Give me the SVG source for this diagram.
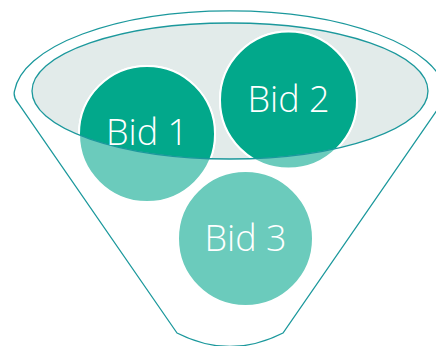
<svg xmlns="http://www.w3.org/2000/svg" width="436" height="346" viewBox="0 0 436 346">
<style>
.outline{fill:none;stroke:#1B989C;stroke-width:1.3}
.light{fill:#6BCBBC;stroke:#ffffff;stroke-width:2}
.dark{fill:#02A88B;stroke:#ffffff;stroke-width:2}
.label{font-family:"Open Sans","Liberation Sans",Arial,sans-serif;font-weight:300;font-size:36px;fill:#ffffff;text-anchor:middle}
</style>
<defs>
<clipPath id="inner"><ellipse cx="230" cy="91" rx="198" ry="68"/></clipPath>
</defs>
<rect width="436" height="346" fill="#ffffff"/>
<g id="funnel">
<path class="outline" d="M177,333 L18,103 Q13,97 14.5,91 A216,86 0 0 1 445.5,91 Q447,97 442,103 L283,333 Q230,360 177,333 Z"/>
</g>
<g id="top-ellipse">
<ellipse cx="230" cy="91" rx="198" ry="68" fill="#E2EBEA"/>
</g>
<g id="bid1">
<circle class="light" cx="147" cy="134" r="68"/>
<circle class="dark" cx="147" cy="134" r="68" clip-path="url(#inner)"/>
</g>
<g id="bid2">
<circle class="light" cx="288.5" cy="100" r="68.5"/>
<circle class="dark" cx="288.5" cy="100" r="68.5" clip-path="url(#inner)"/>
</g>
<g id="bid3">
<circle class="light" cx="245.5" cy="238.5" r="67.5"/>
</g>
<g id="top-ellipse-rim">
<ellipse class="outline" cx="230" cy="91" rx="198" ry="68"/>
</g>
<g id="labels">
<text class="label" x="147" y="145">Bid 1</text>
<text class="label" x="288.5" y="112">Bid 2</text>
<text class="label" x="245.5" y="251">Bid 3</text>
</g>
<g id="connectors"/>
</svg>
